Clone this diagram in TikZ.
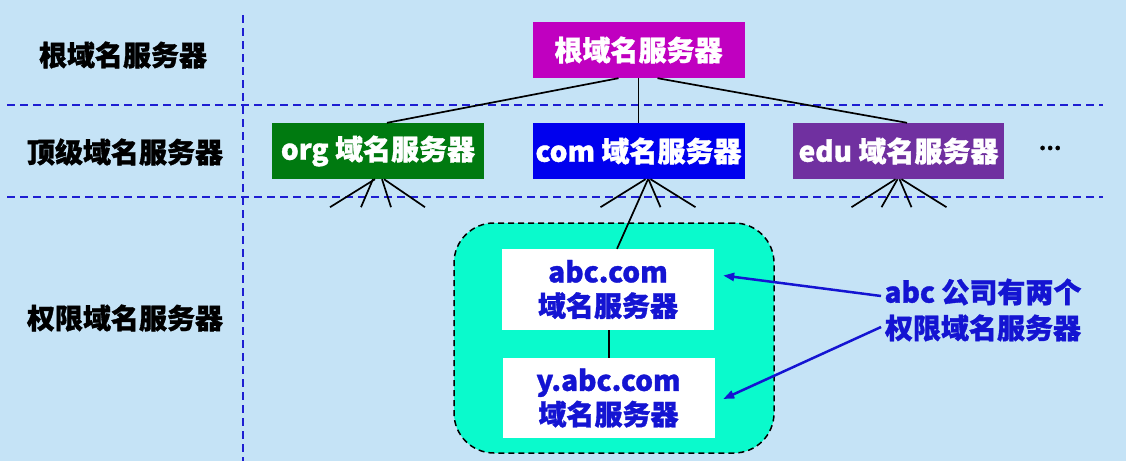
\documentclass[tikz,border=0pt]{standalone}
\usepackage{fontspec}
\setmainfont{Noto Sans CJK SC}[BoldFeatures={FakeBold=1.2}]
\usepackage{tikz}
\usetikzlibrary{arrows.meta}

\definecolor{bgblue}{RGB}{197,227,246}
\definecolor{dashblue}{RGB}{30,30,210}
\definecolor{rootmag}{RGB}{192,0,192}
\definecolor{orggreen}{RGB}{0,122,16}
\definecolor{comblue}{RGB}{0,0,238}
\definecolor{edupurple}{RGB}{112,48,160}
\definecolor{zonegreen}{RGB}{10,250,204}
\definecolor{textblue}{RGB}{20,20,210}

\begin{document}
\begin{tikzpicture}[x=1pt,y=-1pt,
  font=\fontsize{28}{34}\selectfont\bfseries,
  rowlabel/.style={text=black},
  server/.style={text=white, inner sep=0pt, minimum width=212pt, minimum height=56pt},
  authbox/.style={fill=white, text=textblue, align=center, inner sep=0pt, minimum width=212pt, minimum height=81pt},
  sep/.style={dashblue, line width=2pt, dash pattern=on 8pt off 5pt},
  link/.style={black, line width=1.7pt},
  note/.style={textblue, line width=2.5pt, -{Triangle[length=11pt,width=8pt]}}]
\fill[bgblue] (0,0) rectangle (1126,461);
\useasboundingbox (0,0) rectangle (1126,461);

\draw[sep] (7,105) -- (1103,105);
\draw[sep] (7,197) -- (1103,197);
\draw[sep] (243,15) -- (243,461);

\node[rowlabel] (lroot) at (123,55) {根域名服务器};
\node[rowlabel] (ltop) at (125,152) {顶级域名服务器};
\node[rowlabel] (lauth) at (125,318) {权限域名服务器};

\node[server, fill=rootmag] (root) at (638.5,50) {根域名服务器};
\node[server, fill=orggreen] (org) at (378,151) {org 域名服务器};
\node[server, fill=comblue] (com) at (638.5,151) {com 域名服务器};
\node[server, fill=edupurple, minimum width=211pt] (edu) at (898.5,151) {edu 域名服务器};
\node[font=\fontsize{20}{24}\selectfont\bfseries] (more) at (1050,148) {…};

\node[draw=black, line width=1.5pt, dash pattern=on 6pt off 4pt, fill=zonegreen,
  rounded corners=40pt, minimum width=320pt, minimum height=230pt] (zone) at (614,338) {};
\node[authbox] (abc) at (608,289.5) {abc.com\\域名服务器};
\node[authbox, minimum height=80pt] (yabc) at (608.5,398) {y.abc.com\\域名服务器};

\node[textblue, align=center, font=\fontsize{28}{36}\selectfont\bfseries] (two) at (983,310) {abc 公司有两个\\权限域名服务器};

\draw[link] ([xshift=-20pt]root.south) -- ([xshift=9pt]org.north);
\draw[link] (root.south) -- (com.north);
\draw[link] ([xshift=19pt]root.south) -- ([xshift=8.5pt]edu.north);

\foreach \a/\b in {-3/-48, -5/-17, 4/13, 6/47}
  \draw[link] ([xshift=\a pt]org.south) -- ++(\b-\a,28);
\foreach \a/\b in {7/-38, 10/22, 12/57}
  \draw[link] ([xshift=\a pt]com.south) -- ++(\b-\a,28);
\foreach \a/\b in {-3/-47, -1/-17, 1/13, 3/48}
  \draw[link] ([xshift=\a pt]edu.south) -- ++(\b-\a,28);

\draw[link] ([xshift=9.5pt]com.south) -- ([xshift=9pt]abc.north);
\draw[link] ([xshift=1pt]abc.south) -- ([xshift=0.5pt]yabc.north);

\draw[note] ([yshift=14pt]two.west) -- ([xshift=9pt,yshift=14pt]abc.east);
\draw[note] ([yshift=-17pt]two.west) -- ([xshift=8.5pt,yshift=-1pt]yabc.east);
\end{tikzpicture}
\end{document}
